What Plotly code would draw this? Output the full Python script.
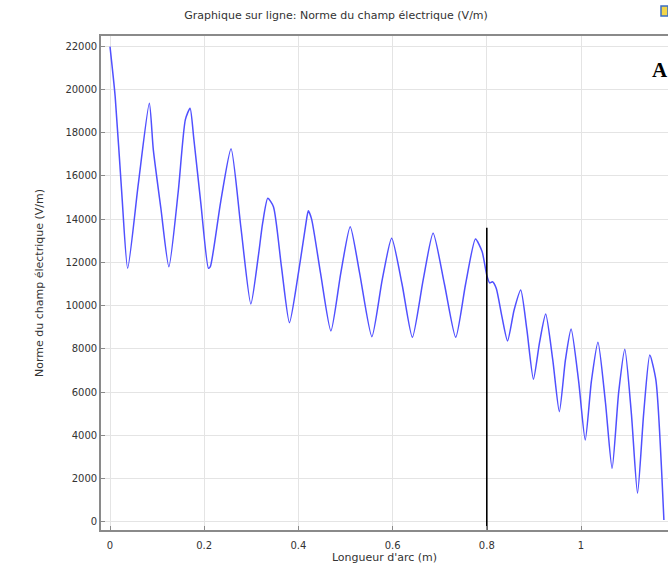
import plotly.graph_objects as go

# Arc length (m) and electric field norm (V/m)
arc_length = [0.000, 0.011, 0.025, 0.0375, 0.060, 0.0835, 0.092, 0.108, 0.125, 0.145,
              0.160, 0.170, 0.178, 0.193, 0.209, 0.213, 0.235, 0.257, 0.278, 0.299,
              0.315, 0.324, 0.335, 0.347, 0.364, 0.381, 0.400, 0.415, 0.421, 0.428,
              0.447, 0.469, 0.490, 0.510, 0.530, 0.556, 0.578, 0.598, 0.620, 0.642,
              0.665, 0.686, 0.710, 0.734, 0.755, 0.776, 0.790, 0.800, 0.806, 0.812,
              0.820, 0.832, 0.844, 0.858, 0.872, 0.885, 0.899, 0.912, 0.925, 0.940,
              0.954, 0.967, 0.979, 0.995, 1.009, 1.022, 1.036, 1.052, 1.066, 1.080,
              1.093, 1.107, 1.120, 1.133, 1.146, 1.159, 1.176]
field_norm = [21970, 19660, 15200, 11725, 15600, 19350, 17200, 14500, 11800, 15300,
              18600, 19120, 17700, 14700, 11725, 11800, 14800, 17250, 13600, 10080,
              12300, 13800, 14960, 14575, 11800, 9210, 11500, 13650, 14380, 14000,
              11500, 8830, 11500, 13650, 11500, 8565, 11200, 13110, 11000, 8535,
              11200, 13340, 11000, 8535, 11000, 13080, 12500, 11400, 11050, 11100,
              10800, 9500, 8370, 9800, 10720, 8900, 6600, 8300, 9610, 7500,
              5100, 7500, 8920, 6500, 3790, 6500, 8310, 5500, 2480, 6000,
              7980, 5000, 1330, 5000, 7720, 6560, 90]

# Vertical cut marker
cut_x = 0.8
cut_top = 13600

x_ticks = [0, 0.2, 0.4, 0.6, 0.8, 1]
x_tick_labels = ["0", "0.2", "0.4", "0.6", "0.8", "1"]
y_ticks = [0, 2000, 4000, 6000, 8000, 10000, 12000, 14000, 16000, 18000, 20000, 22000]
y_tick_labels = [str(v) for v in y_ticks]

x_range = [-0.0191, 1.1847]
y_range = [-370, 22462]

fig = go.Figure()
fig.add_trace(go.Scatter(
    x=arc_length, y=field_norm, mode="lines",
    line=dict(color="rgb(80,80,255)", width=1.5, shape="spline", smoothing=0.6),
    showlegend=False, hoverinfo="x+y"))
fig.add_trace(go.Scatter(
    x=[cut_x, cut_x], y=[y_range[0], cut_top], mode="lines",
    line=dict(color="black", width=1.6), showlegend=False))

axis_common = dict(
    showgrid=True, gridcolor="#e4e4e4", gridwidth=1,
    showline=True, linecolor="#8a8a8a", linewidth=1.6,
    ticks="inside", ticklen=4, tickcolor="#8a8a8a", tickwidth=1,
    zeroline=False, automargin=False,
    tickfont=dict(family="DejaVu Sans", size=10, color="#333333"),
)

fig.update_layout(
    width=668, height=567,
    margin=dict(l=101, r=0, t=36, b=37, autoexpand=False),
    paper_bgcolor="white", plot_bgcolor="white",
    title=dict(text="Graphique sur ligne: Norme du champ électrique (V/m)",
               x=336 / 668, xanchor="center", y=1 - 15 / 567, yanchor="middle",
               font=dict(family="DejaVu Sans", size=11, color="#333333")),
    xaxis=dict(range=x_range, tickvals=x_ticks, ticktext=x_tick_labels, mirror=True,
               ticklabelstandoff=5,
               title=dict(text="Longueur d'arc (m)", standoff=2,
                          font=dict(family="DejaVu Sans", size=11, color="#333333")),
               **axis_common),
    yaxis=dict(range=y_range, tickvals=y_ticks, ticktext=y_tick_labels, mirror=False,
               title=dict(text="Norme du champ électrique (V/m)", standoff=20,
                          font=dict(family="DejaVu Sans", size=11, color="#333333")),
               **axis_common),
    annotations=[dict(text="<b>A</b>", xref="paper", yref="paper",
                      x=(650 - 101) / 567, y=1 - (70 - 36) / 494,
                      xanchor="left", yanchor="middle", showarrow=False,
                      font=dict(family="Liberation Serif", size=21, color="black"))],
    shapes=[dict(type="rect", xref="paper", yref="paper",
                 x0=(661 - 101) / 567, x1=1.0, y0=1 + (36 - 16) / 494, y1=1 + (36 - 6) / 494,
                 fillcolor="#f2d64b", line=dict(color="#3b6fc4", width=1.5))],
)

fig.write_html("out.html", config={"displayModeBar": False},
               post_script="document.body.style.margin='0px';")
